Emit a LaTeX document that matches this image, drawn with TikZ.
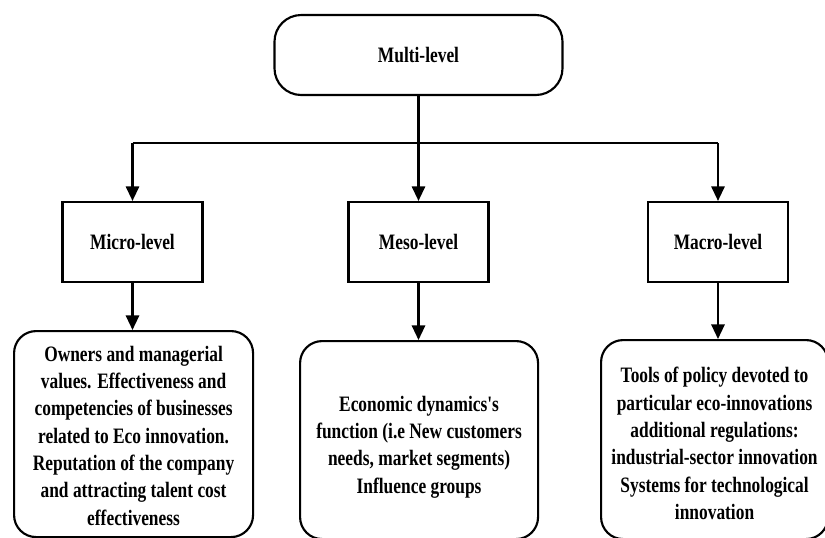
\documentclass[tikz,border=0pt]{standalone}
\usepackage{fontspec}
\newfontfamily\tnr{Liberation Serif}[FakeStretch=0.79]
\usetikzlibrary{arrows.meta}
\begin{document}
\begin{tikzpicture}[x=0.75pt,y=-0.75pt,
  txt/.style={font=\tnr\bfseries\fontsize{16.5}{20.5}\selectfont, align=center, inner sep=0pt},
  topbox/.style={txt, draw, line width=1.6pt, rounded corners=20pt, minimum width=216pt, minimum height=60pt},
  lvlbox/.style={txt, draw, line width=1.6pt, minimum width=105pt, minimum height=60pt},
  descbox/.style={txt, draw, line width=1.6pt, rounded corners=16.5pt, anchor=north west},
  conn/.style={line width=1.6pt},
  arr/.style={line width=1.6pt, -{Triangle[width=10pt,length=11pt]}}]
\useasboundingbox (0,0) rectangle (825,537);
\clip (0,0) rectangle (825,537);
\fill[white] (0,0) rectangle (825,537);

\node[topbox] (multi) at (418.5,55) {Multi-level};

\node[lvlbox] (micro) at (132.5,242) {Micro-level};
\node[lvlbox] (meso) at (418.5,242) {Meso-level};
\node[lvlbox] (macro) at (718,242) {Macro-level};

\node[descbox, minimum width=179.25pt, minimum height=154.5pt] (dmicro) at (13,330)
  {\rule{0pt}{14pt}Owners and managerial\\values. Effectiveness and\\competencies of businesses\\related to Eco innovation.\\Reputation of the company\\and attracting talent cost\\effectiveness};
\node[descbox, minimum width=178.5pt, minimum height=148.5pt] (dmeso) at (299,340)
  {\rule{0pt}{22pt}Economic dynamics's\\function (i.e New customers\\needs, market segments)\\Influence groups};
\node[descbox, minimum width=170.25pt, minimum height=149.25pt] (dmacro) at (600,339)
  {\rule{0pt}{17.5pt}Tools of policy devoted to\\particular eco-innovations\\additional regulations:\\industrial-sector innovation\\Systems for technological\\innovation};

\coordinate (jl) at (132.5,143);
\coordinate (jr) at (718,143);

\draw[arr] (multi.south) -- (meso.north);
\draw[conn] (jl) -- (jr);
\draw[arr] (jl) -- (micro.north);
\draw[arr] (jr) -- (macro.north);

\draw[arr] (micro.south) -- (micro.south |- dmicro.north);
\draw[arr] (meso.south) -- (meso.south |- dmeso.north);
\draw[arr] (macro.south) -- (macro.south |- dmacro.north);
\end{tikzpicture}
\end{document}
